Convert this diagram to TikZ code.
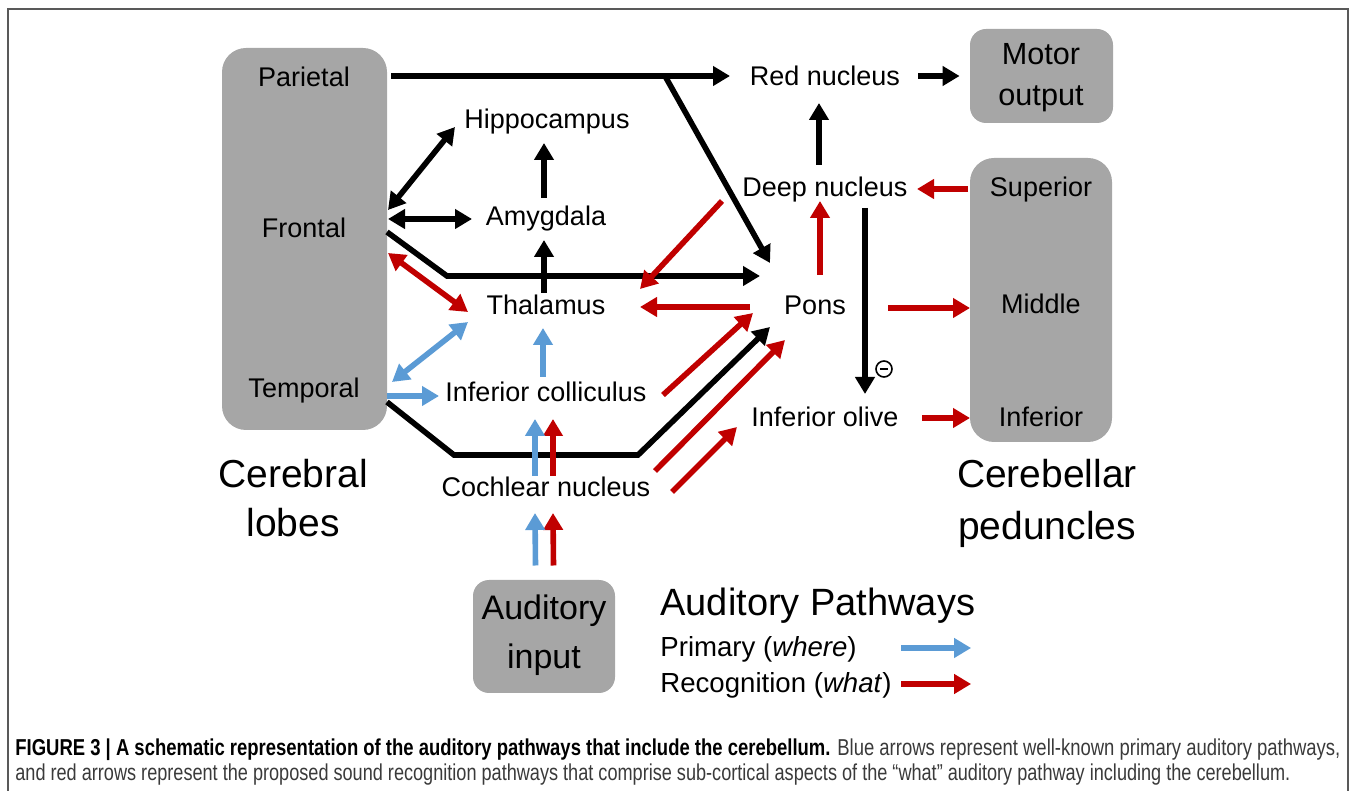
\documentclass[tikz,border=0pt]{standalone}
\usepackage{fontspec}
\usepackage{graphicx}
\setmainfont{Liberation Sans}
\usetikzlibrary{arrows.meta,fit}
\definecolor{rd}{HTML}{C00000}
\definecolor{bl}{HTML}{5B9BD5}
\definecolor{gb}{HTML}{A6A6A6}
\definecolor{fr}{HTML}{595959}
\definecolor{capg}{HTML}{3A3A3A}
\begin{document}
\begin{tikzpicture}[x=0.5pt,y=-0.5pt,
  lbl/.style={inner sep=0,text height=9.7pt,text depth=0pt,font=\fontsize{13.5}{16}\selectfont},
  gbox/.style={fill=gb,draw=none,rounded corners=12pt,inner sep=0},
  sbox/.style={gbox,rounded corners=8pt},
  tip/.tip={Triangle[length=8.5pt,width=9.5pt]},
  con/.style={line width=2.8pt,-tip},
  dcon/.style={line width=2.8pt,tip-tip},
  blk/.style={con,black},
  rdc/.style={con,rd},
  blc/.style={con,bl}]
\useasboundingbox (0,0) rectangle (1357,791);
% frame
\draw[fr,line width=0.8pt] (8,791) -- (8,9) -- (1348,9) -- (1348,791);
% gray boxes
\node[gbox,fit={(222,48) (387,430)}] (lobes) {};
\node[sbox,fit={(970,29) (1113,123)}] (motor) {};
\node[gbox,fit={(970,158) (1112,442)}] (ped) {};
\node[sbox,fit={(473,580) (615,693)}] (ain) {};
% labels
\node[lbl] (par) at (304,76.5) {Parietal};
\node[lbl] (fro) at (304,228) {Frontal};
\node[lbl] (tem) at (304,388) {Temporal};
\node[lbl] (hip) at (547,119) {Hippocampus};
\node[lbl] (amy) at (546,216) {Amygdala};
\node[lbl] (tha) at (546,305) {Thalamus};
\node[lbl] (ic) at (546,392) {Inferior colliculus};
\node[lbl] (cn) at (546,487) {Cochlear nucleus};
\node[lbl] (red) at (825,76) {Red nucleus};
\node[lbl] (deep) at (825,187) {Deep nucleus};
\node[lbl] (pons) at (815,305) {Pons};
\node[lbl] (io) at (825,417) {Inferior olive};
\node[lbl] (sup) at (1041,187) {Superior};
\node[lbl] (mid) at (1041,304) {Middle};
\node[lbl] (inf) at (1041,417) {Inferior};
\node[inner sep=0,align=center,font=\fontsize{15.3}{20.5}\selectfont] (mot) at (1041,78) {Motor\\output};
\node[inner sep=0,align=center,font=\fontsize{17}{24.5}\selectfont] (aint) at (544,635) {Auditory\\input};
\node[inner sep=0,align=center,font=\fontsize{19.5}{24.5}\selectfont] (cl) at (293,498) {Cerebral\\lobes};
\node[inner sep=0,align=center,font=\fontsize{19.5}{26}\selectfont] (cp) at (1047,503) {Cerebellar\\peduncles};
\node[inner sep=0,anchor=west,text height=13.6pt,text depth=0pt,font=\fontsize{19}{22}\selectfont] (leg) at (660,602) {Auditory Pathways};
\node[lbl,anchor=west,font=\fontsize{13.8}{16}\selectfont] (prim) at (660,647) {Primary (\textit{where})};
\node[lbl,anchor=west,font=\fontsize{13.8}{16}\selectfont] (rec) at (660,683) {Recognition (\textit{what})};
\node[circle,draw,line width=0.8pt,minimum size=8pt,inner sep=0] (inh) at (884,369) {\rule{4.2pt}{0.9pt}};
% black connectors
\coordinate (pj) at ([shift={(-160,0)}]red.center);
\draw[blk,shorten <=2pt] (lobes.east |- red) -- ([shift={(-95,0)}]red.center);
\draw[blk] (pj) -- ([shift={(-45,-42)}]pons.center);
\draw[blk,shorten >=5pt] ([shift={(93,0)}]red.center) -- (motor.west |- red);
\draw[blk] ([shift={(-6,-22)}]deep.center) -- ([shift={(-6,27)}]red.center);
\draw[blk] ([shift={(40,21)}]deep.center) -- ([shift={(40,-23)}]io.center);
\draw[dcon] ([shift={(84,-18)}]fro.center) -- ([shift={(-92,8)}]hip.center);
\draw[dcon] ([shift={(84,-9)}]fro.center) -- ([shift={(-74,3)}]amy.center);
\draw[blk] ([shift={(-2,-18)}]amy.center) -- ([shift={(-3,24)}]hip.center);
\draw[blk] ([shift={(-2,-12)}]tha.center) -- ([shift={(-2,24)}]amy.center);
\coordinate (fb) at (447,276);
\draw[blk] ([shift={(83,4)}]fro.center) -- (fb) -- ([shift={(-55,-29)}]pons.center);
\coordinate (tb1) at (454,455);
\coordinate (tb2) at (638,455);
\draw[blk] ([shift={(83,14)}]tem.center) -- (tb1) -- (tb2) -- ([shift={(-45,22)}]pons.center);
% red connectors
\draw[rdc] ([shift={(-103,14)}]deep.center) -- ([shift={(94,-16)}]tha.center);
\draw[dcon,rd] ([shift={(84,25)}]fro.center) -- ([shift={(-78,7)}]tha.center);
\draw[rdc] ([shift={(-65,2)}]pons.center) -- ([shift={(94,2)}]tha.center);
\draw[rdc] ([shift={(5,-30)}]pons.center) -- ([shift={(-5,14)}]deep.center);
\draw[rdc] ([shift={(-73,2)}]sup.center) -- ([shift={(92,2)}]deep.center);
\draw[rdc] ([shift={(73,3)}]pons.center) -- ([shift={(-71,4)}]mid.center);
\draw[rdc] ([shift={(97,1)}]io.center) -- ([shift={(-71,1)}]inf.center);
\draw[rdc] ([shift={(117,3)}]ic.center) -- ([shift={(-62,8)}]pons.center);
\draw[rdc] ([shift={(109,-16)}]cn.center) -- ([shift={(-30,35)}]pons.center);
\draw[rdc] ([shift={(126,5)}]cn.center) -- ([shift={(-88,10)}]io.center);
\draw[rdc] ([shift={(7,-11)}]cn.center) -- ([shift={(7,27)}]ic.center);
\draw[rdc] ([shift={(9.5,-71)}]ain.center) -- ([shift={(7,26)}]cn.center);
% blue connectors
\draw[dcon,bl] ([shift={(88,-6)}]tem.center) -- ([shift={(-78,17)}]tha.center);
\draw[blc] ([shift={(83,8)}]tem.center) -- ([shift={(-107,4)}]ic.center);
\draw[blc] ([shift={(-3,-15)}]ic.center) -- ([shift={(-3,23)}]tha.center);
\draw[blc] ([shift={(-11,-11)}]cn.center) -- ([shift={(-11,27)}]ic.center);
\draw[blc] ([shift={(-8.5,-71)}]ain.center) -- ([shift={(-11,26)}]cn.center);
% legend arrows
\draw[blc] ([shift={(44,1)}]prim.east) -- ([shift={(114,1)}]prim.east);
\draw[rdc] ([shift={(44,37)}]prim.east) -- ([shift={(114,37)}]prim.east);
% caption
\node[anchor=base west,inner sep=0] (cap1) at (15,755) {\resizebox{662.5pt}{\height}{\fontsize{11.5}{13}\selectfont\textbf{FIGURE 3 | A schematic representation of the auditory pathways that include the cerebellum.} \textcolor{capg}{Blue arrows represent well-known primary auditory pathways,}}};
\node[anchor=base west,inner sep=0] (cap2) at (15,780) {\resizebox{637.5pt}{\height}{\fontsize{11.5}{13}\selectfont\textcolor{capg}{and red arrows represent the proposed sound recognition pathways that comprise sub-cortical aspects of the “what” auditory pathway including the cerebellum.}}};
\end{tikzpicture}
\end{document}
